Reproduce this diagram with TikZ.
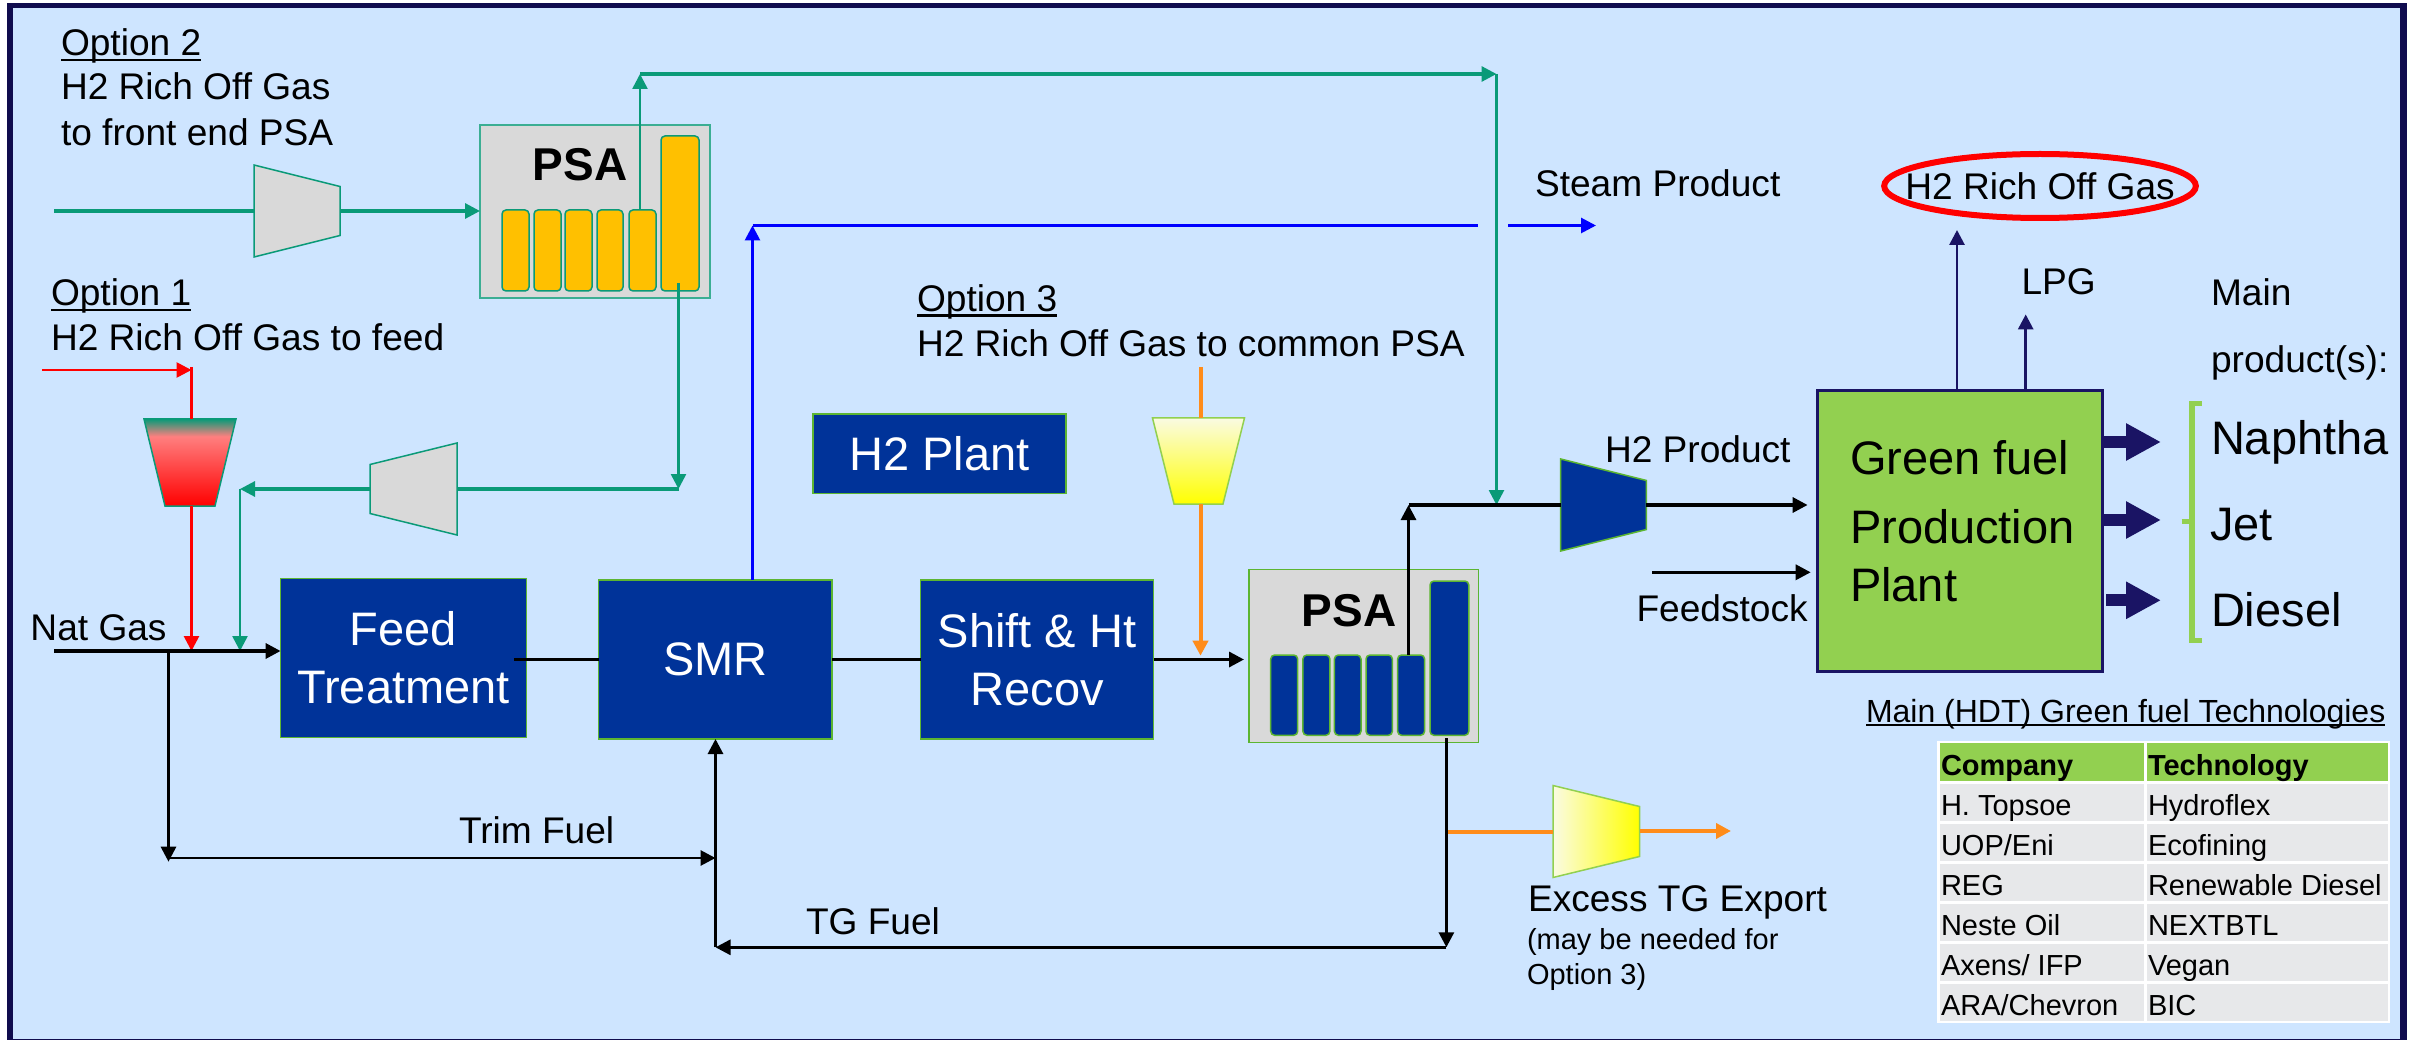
\documentclass[tikz,border=0pt]{standalone}
\usepackage{fontspec}
\setmainfont{Liberation Sans}
\usetikzlibrary{arrows.meta,shapes.geometric,calc}
\definecolor{bgblue}{HTML}{CEE5FF}
\definecolor{frame}{HTML}{100C4E}
\definecolor{navy}{HTML}{1A1464}
\definecolor{teal2}{HTML}{0A9A78}
\definecolor{plant}{HTML}{003399}
\definecolor{edgegreen}{HTML}{5CB531}
\definecolor{lime}{HTML}{92D050}
\definecolor{greyfill}{HTML}{D9D9D9}
\definecolor{amber}{HTML}{FFC000}
\definecolor{flame}{HTML}{FF8C1A}
\definecolor{cellgrey}{HTML}{E7E8EA}
\definecolor{pale}{HTML}{FAFBE2}
\definecolor{coolpink}{HTML}{FF7F7F}
\pgfdeclareverticalshading{coolred}{100bp}{color(0bp)=(red);color(25bp)=(red);color(65bp)=(coolpink);color(75bp)=(teal2);color(100bp)=(teal2)}
\newcommand\ulx[1]{\setbox0\hbox{#1}\rlap{\rule[-0.14em]{\wd0}{0.07em}}\box0}
\newcommand\boxat[7]{\node[inner sep=0pt,outer sep=0pt,minimum width={(#4-#2)*1pt},minimum height={(#5-#3)*1pt},#6] (#1) at ({(#2+#4)/2},{(#3+#5)/2}) {#7};}
% name, xL, xR, yc, half height left, half height right, style
\newcommand\trapH[7]{\node[inner sep=0pt,outer sep=0pt,minimum width={(#3-#2)*1pt},minimum height={2*max(#5,#6)*1pt}] (#1) at ({(#2+#3)/2},#4) {};
 \path[#7] (#2,{#4-#5}) -- (#3,{#4-#6}) -- (#3,{#4+#6}) -- (#2,{#4+#5}) -- cycle;}
% name, xc, yT, yB, half width top, half width bottom, style
\newcommand\trapV[7]{\node[inner sep=0pt,outer sep=0pt,minimum width={2*max(#5,#6)*1pt},minimum height={(#4-#3)*1pt}] (#1) at (#2,{(#3+#4)/2}) {};
 \path[#7] ({#2-#5},#3) -- ({#2+#5},#3) -- ({#2+#6},#4) -- ({#2-#6},#4) -- cycle;}
\tikzset{
 tx/.style={font=\fontsize{37.1}{37.1}\selectfont,anchor=base west,inner sep=0pt,outer sep=0pt,text=black},
 small/.style={tx,font=\fontsize{29}{29}\selectfont},
 large/.style={tx,font=\fontsize{47}{47}\selectfont},
 tabhead/.style={tx,font=\fontsize{29}{29}\selectfont\bfseries},
 psatext/.style={tx,anchor=base,font=\fontsize{46}{46}\selectfont\bfseries},
 unit/.style={fill=plant,draw=edgegreen,line width=1.5pt,text=white,align=center,font=\fontsize{47}{58}\selectfont},
 psabox/.style={fill=greyfill,line width=1.5pt},
 vesA/.style={fill=amber,draw=teal2,line width=1.5pt,rounded corners=4pt},
 vesB/.style={fill=plant,draw=edgegreen,line width=1.5pt,rounded corners=4pt},
 pipe/.style={line width=#1,-{Triangle[length=15pt,width=15pt]}},
 pipe/.default=2.8pt,
 plainpipe/.style={line width=#1},
 plainpipe/.default=2.8pt,
 blockarrow/.style={navy,line width=12pt,-{Triangle[length=35pt,width=35pt]}},
 cell/.style={fill=cellgrey},
 headcell/.style={fill=lime},
}
\begin{document}
\begin{tikzpicture}[x=1pt,y=-1pt]
\useasboundingbox (0,0) rectangle (2418,1040);
\fill[white] (0,0) rectangle (2418,1040);
\fill[frame] (6.5,3.5) rectangle (2407,1040);
\fill[bgblue] (12.5,8.5) rectangle (2400,1038.5);

% PSA units
\boxat{psaA}{480}{125}{710}{298}{psabox,draw=teal2!80!white}{}
\boxat{vA1}{502}{210}{529}{291}{vesA}{}
\boxat{vA2}{534}{210}{561}{291}{vesA}{}
\boxat{vA3}{565}{210}{592}{291}{vesA}{}
\boxat{vA4}{597}{210}{623}{291}{vesA}{}
\boxat{vA5}{629}{210}{656}{291}{vesA}{}
\boxat{vA6}{661}{136}{699}{291}{vesA}{}
\node[psatext] (psaAt) at (580,181) {PSA};

\boxat{psaB}{1249}{569.7}{1478.5}{742.7}{psabox,draw=edgegreen}{}
\boxat{vB1}{1270.7}{655}{1297.7}{735.3}{vesB}{}
\boxat{vB2}{1302.9}{655}{1329.9}{735.3}{vesB}{}
\boxat{vB3}{1334.4}{655}{1361}{735.3}{vesB}{}
\boxat{vB4}{1366}{655}{1392.4}{735.3}{vesB}{}
\boxat{vB5}{1397.6}{655}{1424.6}{735.3}{vesB}{}
\boxat{vB6}{1430}{581}{1468.8}{735.3}{vesB}{}
\node[psatext] (psaBt) at (1349,626) {PSA};

% process units
\boxat{feed}{280.6}{578.7}{526.5}{737.3}{unit}{Feed\\Treatment}
\boxat{smr}{598.5}{580}{832}{739}{unit}{SMR}
\boxat{shift}{920.5}{580}{1153.6}{739}{unit}{Shift \& Ht\\Recov}
\boxat{hplant}{813}{414}{1066}{493.5}{unit}{H2 Plant}
\boxat{gf}{1817.5}{390.7}{2102}{671.7}{fill=lime,draw=navy,line width=3pt}{}
\node[large,anchor=south west,align=left,font=\fontsize{47}{58}\selectfont] (gft) at (1850,601.5) {Green fuel\\[11pt]Production\\Plant};

% compressors and coolers
\trapH{cA}{254}{340}{211}{46}{24.5}{fill=greyfill,draw=teal2,line width=1.5pt}
\trapH{cB}{370}{457}{489}{24.5}{46}{fill=greyfill,draw=teal2,line width=1.5pt}
\trapH{cH}{1560.7}{1646.4}{505}{46}{24.5}{fill=plant,draw=edgegreen,line width=1.5pt}
\trapH{cT}{1553}{1639.5}{831.5}{46}{25}{left color=pale,right color=yellow,draw=lime,line width=1.5pt}
\trapV{hR}{190}{419}{506}{46}{25}{shade,shading=coolred,draw=teal2,line width=1.5pt}
\trapV{hY}{1198.5}{418}{504}{46}{24.5}{top color=pale,bottom color=yellow,draw=lime,line width=1.5pt}

% junction coordinates
\coordinate (ngIn) at (54,651);
\coordinate (optAIn) at (54,211);
\coordinate (gUp) at (640,74);
\coordinate (gCorner) at (1496.5,74);
\coordinate (gDrop) at (678.5,489);
\coordinate (gFeed) at (240,489);
\coordinate (gNg) at (240,651);
\coordinate (rIn) at (42,370);
\coordinate (rCorner) at (191.5,370);
\coordinate (rTop) at (191.5,367);
\coordinate (rNg) at (191.5,651);
\coordinate (trimTop) at (168.5,651);
\coordinate (trimBot) at (168.5,861.7);
\coordinate (trimL) at (168.5,858);
\coordinate (trimR) at (715.5,858);
\coordinate (tgCorner) at (715.5,947.3);
\coordinate (tgR) at (1446.4,947.3);
\coordinate (tgTop) at (1446.4,738.3);
\coordinate (bUp) at (752.5,225.5);
\coordinate (bEnd) at (1477.5,225.5);
\coordinate (stIn) at (1508,225.5);
\coordinate (stOut) at (1596,225.5);
\coordinate (oTop) at (1200.5,367);
\coordinate (oTip) at (1200.5,655.7);
\coordinate (hUp) at (1408.5,505);
\coordinate (mix) at (1496.5,505);
\coordinate (fsIn) at (1652,572.3);
\coordinate (tgOutTip) at (1731,831);
\coordinate (tgTee) at (1446.4,831.5);
\coordinate (offTip) at (1957,230);
\coordinate (lpgTip) at (2025.7,314.4);

% teal connectors
\draw[teal2,plainpipe=3.1pt] (optAIn) -- (cA.west);
\draw[teal2,pipe=3.1pt] (cA.east) -- (psaA.west |- cA.east);
\draw[teal2,pipe=2.6pt] (vA5.north -| gUp) -- (gUp);
\draw[teal2,pipe=3.1pt] (gUp) -- (gCorner);
\draw[teal2,pipe=2.6pt] (gCorner) -- (mix);
\draw[teal2,pipe=2.6pt] (678.5,283) -- (gDrop);
\draw[teal2,plainpipe=3.1pt] (gDrop) -- (cB.east);
\draw[teal2,pipe=3.1pt] (cB.west) -- (gFeed);
\draw[teal2,pipe=2.6pt] (gFeed) -- (gNg);

% red connectors
\draw[red,pipe=2.7pt] (rIn) -- (rCorner);
\draw[red,plainpipe=2.7pt] (rTop) -- (hR.north -| rTop);
\draw[red,pipe=2.7pt] (hR.south -| rTop) -- (rNg);

% blue connectors
\draw[blue,pipe=2.8pt] (smr.north -| bUp) -- (bUp);
\draw[blue,plainpipe=2.8pt] (bUp) -- (bEnd);
\draw[blue,pipe=2.8pt] (stIn) -- (stOut);

% orange connectors
\draw[flame,plainpipe=4pt] (oTop) -- (hY.north -| oTop);
\draw[flame,pipe=4pt] (hY.south -| oTop) -- (oTip);
\draw[flame,plainpipe=4pt] (tgTee) -- (cT.west);
\draw[flame,pipe=4pt] (cT.east |- tgOutTip) -- (tgOutTip);

% black connectors
\draw[black,pipe=3.3pt] (ngIn) -- (feed.west |- ngIn);
\draw[black,plainpipe=3.3pt] ([xshift=-12.5pt]feed.east |- smr.west) -- (smr.west);
\draw[black,plainpipe=3.3pt] (smr.east) -- (shift.west);
\draw[black,pipe=3.3pt] (shift.east) -- (1244,659.5);
\draw[black,pipe=2.9pt] (trimTop) -- (trimBot);
\draw[black,pipe=2.9pt] (trimL) -- (trimR);
\draw[black,pipe=2.9pt] (tgCorner) -- (smr.south -| tgCorner);
\draw[black,pipe=2.9pt] (tgTop) -- (tgR);
\draw[black,pipe=2.9pt] (tgR) -- (tgCorner);
\draw[black,pipe=2.9pt] (vB5.north -| hUp) -- (hUp);
\draw[black,plainpipe=3.2pt] (hUp) -- (cH.west);
\draw[black,pipe=3.2pt] (cH.east) -- (1807.6,505);
\draw[black,pipe=3.2pt] (fsIn) -- (1810.7,572.3);

% navy connectors
\draw[navy,pipe=2.8pt] (gf.north -| offTip) -- (offTip);
\draw[navy,pipe=2.8pt] (gf.north -| lpgTip) -- (lpgTip);
\coordinate (naTip) at (2161,442);
\coordinate (jeTip) at (2161,520);
\coordinate (diTip) at (2161,600.3);
\draw[blockarrow] (gf.east |- naTip) -- (naTip);
\draw[blockarrow] (gf.east |- jeTip) -- (jeTip);
\draw[blockarrow] ([xshift=4pt]gf.east |- diTip) -- (diTip);

% brace
\draw[lime,line width=5.5pt] (2201.5,403.5) -- (2192,403.5) -- (2192,640.5) -- (2201.5,640.5);
\draw[lime,line width=5.5pt] (2181.5,521.7) -- (2192,521.7);

% labels
\node[tx] (opt2) at (61,56) {\ulx{Option 2}};
\node[tx] (opt2a) at (61,100) {H2 Rich Off Gas};
\node[tx] (opt2b) at (61,146) {to front end PSA};
\node[tx] (opt1) at (51,306) {\ulx{Option 1}};
\node[tx] (opt1a) at (51,350.5) {H2 Rich Off Gas to feed};
\node[tx] (opt3) at (917,311.5) {\ulx{Option 3}};
\node[tx] (opt3a) at (917,357) {H2 Rich Off Gas to common PSA};
\node[tx] (steam) at (1535,197) {Steam Product};
\node[tx] (natgas) at (30.5,640) {Nat Gas};
\node[tx] (trim) at (459,843.3) {Trim Fuel};
\node[tx] (tgfuel) at (806,934.3) {TG Fuel};
\node[tx] (excess) at (1528,911.7) {Excess TG Export};
\node[small] (maybe) at (1527,949) {(may be needed for};
\node[small] (opt3n) at (1527,984) {Option 3)};
\node[tx] (h2prod) at (1605,462.5) {H2 Product};
\node[tx] (feedst) at (1636.5,621) {Feedstock};
\node[ellipse,draw=red,line width=6pt,minimum width=311pt,minimum height=64pt,inner xsep=-24.5pt,inner ysep=0pt,font=\fontsize{37.1}{37.1}\selectfont] (offgas) at (2040,186) {H2 Rich Off Gas};
\node[tx] (lpg) at (2021.5,295) {LPG};
\node[tx] (mainp) at (2211,306) {Main};
\node[tx] (mainq) at (2211,372.5) {product(s):};
\node[large] (naph) at (2211,454) {Naphtha};
\node[large] (jet) at (2210,540.5) {Jet};
\node[large] (diesel) at (2211,626) {Diesel};

% table
\node[tx,font=\fontsize{32}{32}\selectfont] (tbltitle) at (1866,722) {\ulx{Main (HDT) Green fuel Technologies}};
\boxat{tbl}{1937}{741}{2390}{1023}{fill=white}{}
\boxat{hdA}{1939.5}{743.3}{2144}{781}{headcell}{}
\boxat{hdB}{2146.5}{743.3}{2387.7}{781}{headcell}{}
\node[tabhead] (hdAt) at (1941,775) {Company};
\node[tabhead] (hdBt) at (2148,775) {Technology};
\foreach \r/\yt/\yb/\yl/\ca/\cb in {1/783.7/821/815/H. Topsoe/Hydroflex,2/823.7/861/855/UOP\slash Eni/Ecofining,3/863.7/901/895/REG/Renewable Diesel,4/903.7/941/935/Neste Oil/NEXTBTL,5/943.7/981/975/Axens\slash{} IFP/Vegan,6/983.7/1021/1015/ARA\slash Chevron/BIC}{
 \boxat{rA\r}{1939.5}{\yt}{2144}{\yb}{cell}{}
 \boxat{rB\r}{2146.5}{\yt}{2387.7}{\yb}{cell}{}
 \node[small] (rAt\r) at (1941,\yl) {\ca};
 \node[small] (rBt\r) at (2148,\yl) {\cb};
}
\end{tikzpicture}
\end{document}
